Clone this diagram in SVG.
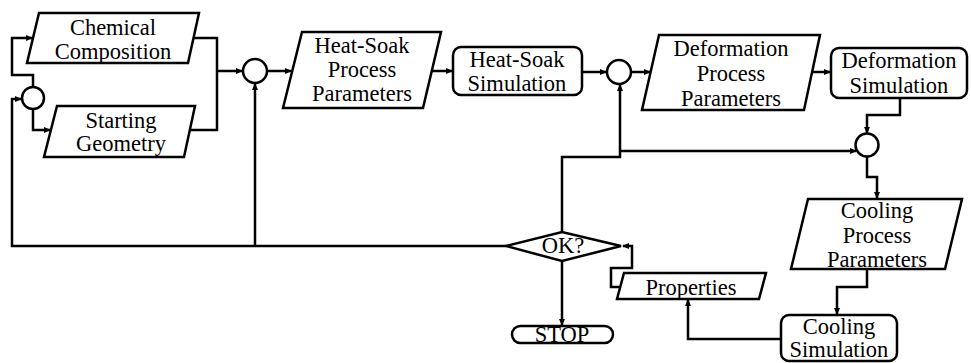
<svg xmlns="http://www.w3.org/2000/svg" width="971" height="363" viewBox="0 0 971 363" font-family="'Liberation Serif', 'DejaVu Serif', serif">
<style>
.s{fill:#fff;stroke:#000;stroke-width:2.5;stroke-linejoin:miter}
.c{fill:none;stroke:#000;stroke-width:2.5;marker-end:url(#a)}
.p{fill:none;stroke:#000;stroke-width:2.5}
text{font-family:'Liberation Serif','DejaVu Serif',serif;font-size:22.5px;text-anchor:middle;fill:#000}
</style>
<defs>
<marker id="a" viewBox="0 0 7 6" refX="6" refY="3" markerWidth="7" markerHeight="6" markerUnits="userSpaceOnUse" orient="auto">
<path d="M0,0 L7,3 L0,6 z" fill="#000"/>
</marker>
</defs>
<rect width="971" height="363" fill="#fff"/>
<g id="connectors">
<path class="c" d="M33,87 V75 H12 V38 H32"/>
<path class="c" d="M33,109 V130 H50"/>
<path class="p" d="M193.5,38 H217 V130 H190"/>
<path class="c" d="M217,71 H242"/>
<path class="c" d="M267,71 H291"/>
<path class="c" d="M432,71 H452"/>
<path class="c" d="M582,72 H606"/>
<path class="c" d="M631,72 H650"/>
<path class="c" d="M812,72 H830"/>
<path class="c" d="M900,98 V115 H867 V133"/>
<path class="c" d="M867,157 V177 H877 V198"/>
<path class="c" d="M867,269 V287 H837 V314"/>
<path class="c" d="M781,339 H688 V300"/>
<path class="c" d="M620,287 H611 V268 H632 V246 H623"/>
<path class="c" d="M562,261 V325"/>
<path class="c" d="M562,232 V157 H620 V85"/>
<path class="c" d="M620,151 H856"/>
<path class="c" d="M506,246 H12 V99 H21"/>
<path class="c" d="M255,246 V84"/>
</g>
<g id="merge1"><circle class="s" cx="33" cy="98" r="11"/></g>
<g id="chem">
<polygon class="s" points="39,13 199,13 188,63 27,63"/>
<text x="113" y="35">Chemical</text>
<text x="113" y="59">Composition</text>
</g>
<g id="geom">
<polygon class="s" points="57,106 195,106 184,157 44,157"/>
<text x="121" y="128">Starting</text>
<text x="121" y="151">Geometry</text>
</g>
<g id="merge2"><circle class="s" cx="255" cy="71" r="12"/></g>
<g id="hspp">
<polygon class="s" points="302,32 441,32 423,108 283,108"/>
<text x="362" y="53">Heat-Soak</text>
<text x="362" y="77">Process</text>
<text x="362" y="101">Parameters</text>
</g>
<g id="hss">
<rect class="s" x="453" y="47" width="129" height="48" rx="8"/>
<text x="517" y="67">Heat-Soak</text>
<text x="517" y="91">Simulation</text>
</g>
<g id="merge3"><circle class="s" cx="619" cy="72" r="12"/></g>
<g id="dpp">
<polygon class="s" points="659,35 820,35 804,110 642,110"/>
<text x="731" y="56">Deformation</text>
<text x="731" y="81">Process</text>
<text x="731" y="106">Parameters</text>
</g>
<g id="ds">
<rect class="s" x="831" y="48" width="136" height="50" rx="8"/>
<text x="899" y="68">Deformation</text>
<text x="899" y="93">Simulation</text>
</g>
<g id="merge4"><circle class="s" cx="867" cy="145" r="11.5"/></g>
<g id="cpp">
<polygon class="s" points="808,199 962,199 945,269 791,269"/>
<text x="877" y="218">Cooling</text>
<text x="877" y="243">Process</text>
<text x="877" y="267">Parameters</text>
</g>
<g id="cs">
<rect class="s" x="781" y="315" width="116" height="46" rx="8"/>
<text x="839" y="334">Cooling</text>
<text x="839" y="357">Simulation</text>
</g>
<g id="props">
<polygon class="s" points="624,273 766,273 759,299 617,299"/>
<text x="691" y="295">Properties</text>
</g>
<g id="ok">
<polygon class="s" points="506,246 562,232 621,246 562,261"/>
<text x="563" y="253">OK?</text>
</g>
<g id="stop">
<rect class="s" x="512" y="326" width="101" height="17" rx="8.5"/>
<text x="562" y="342">STOP</text>
</g>
</svg>
